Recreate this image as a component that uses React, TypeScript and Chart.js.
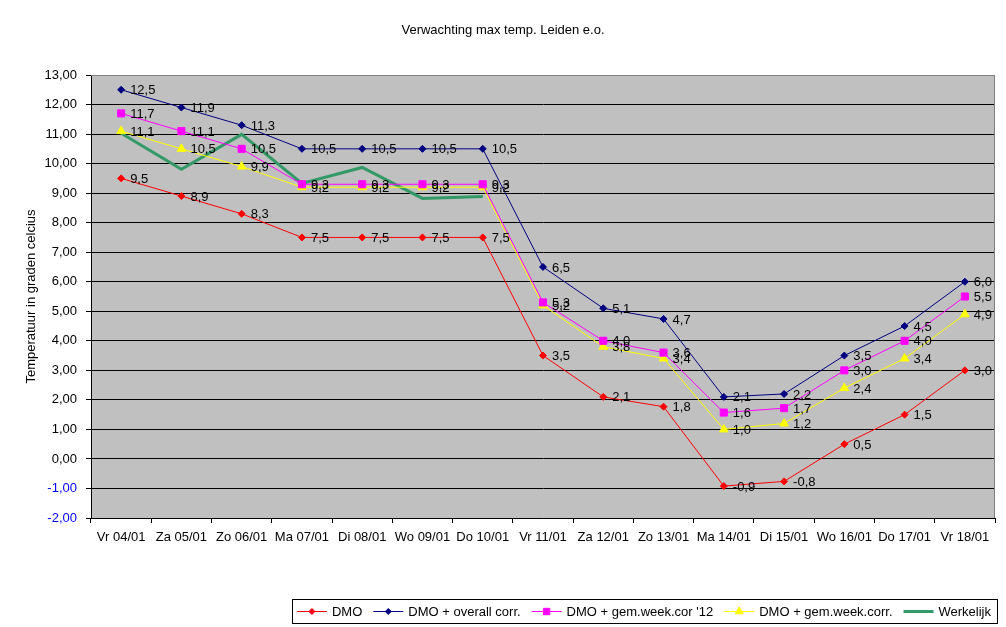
import { useEffect, useRef } from "react"
import { Chart, registerables } from "chart.js"
import { drawPoint } from "chart.js/helpers"

Chart.register(...registerables)

const FONT = "'Liberation Sans', Arial, sans-serif"
const FS = 13

const labels = [
  "Vr 04/01", "Za 05/01", "Zo 06/01", "Ma 07/01", "Di 08/01", "Wo 09/01", "Do 10/01",
  "Vr 11/01", "Za 12/01", "Zo 13/01", "Ma 14/01", "Di 15/01", "Wo 16/01", "Do 17/01", "Vr 18/01",
]

const dmo = [9.5, 8.9, 8.3, 7.5, 7.5, 7.5, 7.5, 3.5, 2.1, 1.77, -0.92, -0.76, 0.5, 1.5, 3.0]
const dmoOverall = [12.5, 11.9, 11.3, 10.5, 10.5, 10.5, 10.5, 6.5, 5.1, 4.74, 2.1, 2.2, 3.5, 4.5, 6.0]
const dmoWeek12 = [11.7, 11.1, 10.5, 9.3, 9.3, 9.3, 9.3, 5.3, 4.0, 3.6, 1.57, 1.72, 3.0, 4.0, 5.5]
const dmoWeek = [11.1, 10.5, 9.9, 9.2, 9.2, 9.2, 9.2, 5.2, 3.8, 3.4, 1.0, 1.2, 2.4, 3.4, 4.9]
const werkelijk = [11.03, 9.81, 10.99, 9.33, 9.87, 8.82, 8.89, null, null, null, null, null, null, null, null]

const yMin = -2
const yMax = 13

const comma = (v: number, d: number) => v.toFixed(d).replace(".", ",")

// grijze achtergrond + rand rechts/boven
const plotBg = {
  id: "plotBg",
  beforeDraw(chart: any) {
    const { ctx, chartArea: a } = chart
    ctx.save()
    ctx.fillStyle = "#ffffff"
    ctx.fillRect(0, 0, chart.width, chart.height)
    ctx.fillStyle = "#c0c0c0"
    ctx.fillRect(a.left, a.top, a.right - a.left, a.bottom - a.top)
    ctx.restore()
  },
  beforeDatasetsDraw(chart: any) {
    const { ctx, chartArea: a } = chart
    ctx.save()
    ctx.strokeStyle = "#808080"
    ctx.lineWidth = 1
    ctx.beginPath()
    ctx.moveTo(a.left, a.top + 0.5)
    ctx.lineTo(a.right - 0.5, a.top + 0.5)
    ctx.lineTo(a.right - 0.5, a.bottom)
    ctx.stroke()
    ctx.restore()
  },
}

// waardelabels rechts van de punten
const valueLabels = {
  id: "valueLabels",
  afterDatasetsDraw(chart: any) {
    const { ctx } = chart
    ctx.save()
    ctx.font = `${FS}px ${FONT}`
    ctx.fillStyle = "#000"
    ctx.textBaseline = "middle"
    ctx.textAlign = "left"
    chart.data.datasets.forEach((ds: any, i: number) => {
      if (ds.noLabels) return
      const meta = chart.getDatasetMeta(i)
      meta.data.forEach((pt: any, j: number) => {
        const v = ds.data[j]
        if (v == null) return
        ctx.fillText(comma(v, 1), pt.x + 9, pt.y + 1)
      })
    })
    ctx.restore()
  },
}

// titel + legenda in kader
const titleAndLegend = {
  id: "titleAndLegend",
  afterDraw(chart: any) {
    const { ctx } = chart
    ctx.save()
    ctx.font = `${FS}px ${FONT}`
    ctx.fillStyle = "#000"
    ctx.textAlign = "center"
    ctx.textBaseline = "middle"
    ctx.fillText("Verwachting max temp. Leiden e.o.", 503, 30)

    const lineLen = 30
    const gapLine = 5
    const gapItem = 11
    const padL = 5
    const padR = 6
    const items = chart.data.datasets.map((ds: any) => ({
      ds,
      w: ctx.measureText(ds.label).width,
    }))
    let total = padL + padR
    items.forEach((it: any, k: number) => {
      total += lineLen + gapLine + it.w + (k < items.length - 1 ? gapItem : 0)
    })
    const right = 997
    const top = 599
    const h = 24
    const left = right - total
    ctx.fillStyle = "#fff"
    ctx.fillRect(left, top, total, h)
    ctx.strokeStyle = "#000"
    ctx.lineWidth = 1
    ctx.strokeRect(Math.round(left) + 0.5, top + 0.5, Math.round(total), h)

    let x = left + padL
    const cy = top + h / 2 + 0.5
    items.forEach((it: any) => {
      const ds = it.ds
      ctx.strokeStyle = ds.borderColor
      ctx.lineWidth = ds.borderWidth
      ctx.beginPath()
      ctx.moveTo(x, cy)
      ctx.lineTo(x + lineLen, cy)
      ctx.stroke()
      if (ds.pointRadius > 0) {
        ctx.fillStyle = ds.pointBackgroundColor
        ctx.strokeStyle = ds.pointBorderColor
        ctx.lineWidth = 1
        drawPoint(ctx, { pointStyle: ds.pointStyle, radius: ds.pointRadius - 0.5, rotation: 0, borderWidth: 1 }, x + lineLen / 2, cy)
      }
      x += lineLen + gapLine
      ctx.fillStyle = "#000"
      ctx.textAlign = "left"
      ctx.fillText(ds.label, x, cy + 1)
      x += it.w + gapItem
    })
    ctx.restore()
  },
}

export default function App() {
  const chartRef = useRef<HTMLCanvasElement>(null)
  const chartInstance = useRef<Chart | null>(null)

  useEffect(() => {
    document.body.style.margin = "0"
    if (!chartRef.current) return
    if (chartInstance.current) chartInstance.current.destroy()

    const ctx = chartRef.current.getContext("2d")
    if (!ctx) return

    const series = (label: string, data: (number | null)[], color: string, style: any, radius: number, width = 1) => ({
      label,
      data,
      borderColor: color,
      backgroundColor: color,
      borderWidth: width,
      pointStyle: style,
      pointRadius: radius,
      pointHoverRadius: radius,
      pointBackgroundColor: color,
      pointBorderColor: color,
      pointBorderWidth: 1,
      tension: 0,
      spanGaps: false,
    })

    chartInstance.current = new Chart(ctx, {
      type: "line",
      data: {
        labels,
        datasets: [
          series("DMO", dmo, "#ff0000", "rectRot", 3.5),
          series("DMO + overall corr.", dmoOverall, "#000080", "rectRot", 3.5),
          series("DMO + gem.week.cor '12", dmoWeek12, "#ff00ff", "rect", 5),
          series("DMO + gem.week.corr.", dmoWeek, "#ffff00", "triangle", 5),
          { ...series("Werkelijk", werkelijk, "#339966", false, 0, 3), noLabels: true } as any,
        ],
      },
      options: {
        animation: false,
        responsive: true,
        maintainAspectRatio: false,
        layout: { padding: { left: 0, right: 11, top: 75, bottom: 69 } },
        plugins: {
          legend: { display: false },
          title: { display: false },
          tooltip: { enabled: false },
        },
        scales: {
          x: {
            offset: true,
            grid: {
              offset: true,
              drawOnChartArea: false,
              drawTicks: true,
              tickLength: 5,
              color: "#000",
            },
            border: { color: "#000", width: 1 },
            ticks: {
              color: "#000",
              font: { family: FONT, size: FS },
              padding: 7,
              maxRotation: 0,
              autoSkip: false,
            },
            afterFit: (scale: any) => {
              scale.height = 40
            },
          },
          y: {
            min: yMin,
            max: yMax,
            grid: {
              color: (c: any) => (c.tick && c.tick.value === yMax ? "#808080" : "#000"),
              tickColor: "#000",
              tickLength: 5,
              lineWidth: 1,
            },
            border: { color: "#000", width: 1 },
            ticks: {
              stepSize: 1,
              padding: 9,
              color: (c: any) => (c.tick && c.tick.value < 0 ? "#0000ff" : "#000"),
              font: { family: FONT, size: FS },
              callback: (v: any) => comma(Number(v), 2),
            },
            title: {
              display: true,
              text: "Temperatuur in graden celcius",
              color: "#000",
              font: { family: FONT, size: FS },
              padding: { top: 24, bottom: 0 },
            },
            afterFit: (scale: any) => {
              scale.width = 91
            },
          },
        },
      },
      plugins: [plotBg, valueLabels, titleAndLegend],
    })

    return () => {
      if (chartInstance.current) {
        chartInstance.current.destroy()
        chartInstance.current = null
      }
    }
  }, [])

  return (
    <div style={{ position: "relative", width: 1006, height: 627 }}>
      <canvas ref={chartRef} />
    </div>
  )
}
